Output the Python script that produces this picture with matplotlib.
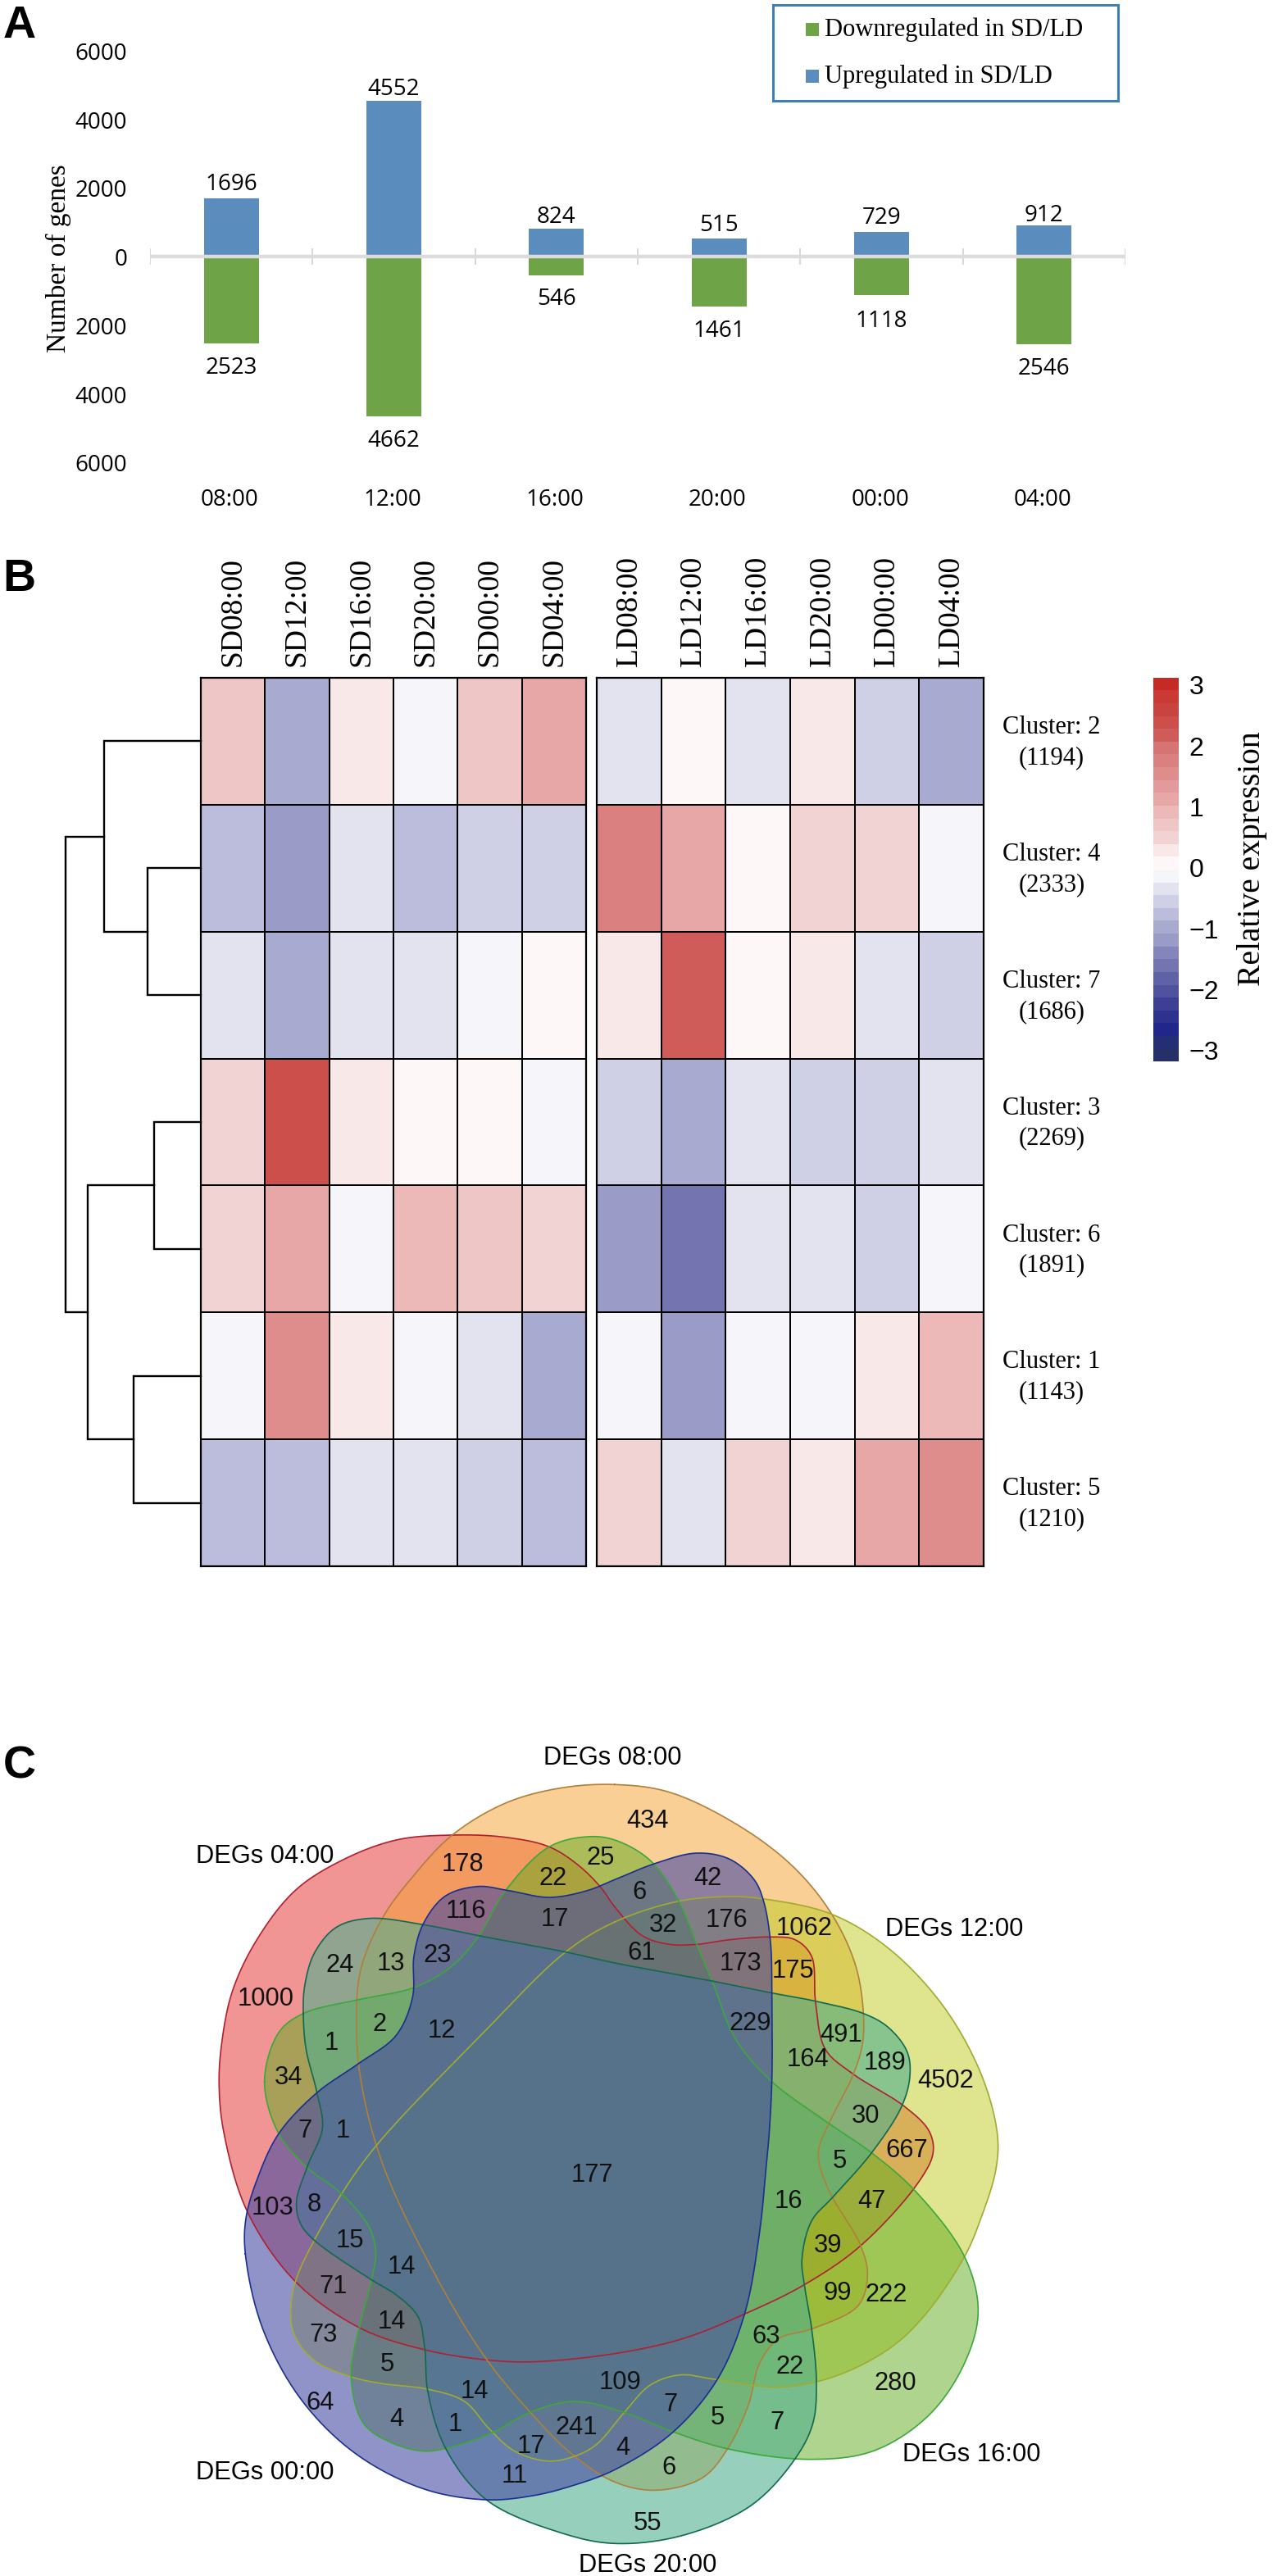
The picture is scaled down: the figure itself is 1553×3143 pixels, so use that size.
import numpy as np
import matplotlib
matplotlib.use("Agg")
import matplotlib.pyplot as plt
from matplotlib.colors import ListedColormap, BoundaryNorm
from matplotlib.patches import PathPatch, Rectangle
from matplotlib.path import Path

W, H = 1553, 3143
SANS = "Liberation Sans"
SERIF = "Liberation Serif"
LABEL = "Open Sans"

# ---------- Panel A data ----------
times = ["08:00", "12:00", "16:00", "20:00", "00:00", "04:00"]
upregulated = [1696, 4552, 824, 515, 729, 912]
downregulated = [2523, 4662, 546, 1461, 1118, 2546]
y_ticks = [6000, 4000, 2000, 0, -2000, -4000, -6000]

# ---------- Panel B data ----------
columns_sd = ["SD08:00", "SD12:00", "SD16:00", "SD20:00", "SD00:00", "SD04:00"]
columns_ld = ["LD08:00", "LD12:00", "LD16:00", "LD20:00", "LD00:00", "LD04:00"]
cluster_ids = [2, 4, 7, 3, 6, 1, 5]
cluster_sizes = [1194, 2333, 1686, 2269, 1891, 1143, 1210]
expr_sd = [
    [0.7, -0.9, 0.3, -0.1, 0.7, 1.15],
    [-0.7, -1.2, -0.3, -0.7, -0.5, -0.5],
    [-0.3, -0.9, -0.3, -0.3, -0.1, 0.1],
    [0.5, 2.4, 0.3, 0.1, 0.1, -0.1],
    [0.5, 1.15, -0.1, 0.95, 0.7, 0.5],
    [-0.1, 1.55, 0.3, -0.1, -0.3, -0.9],
    [-0.7, -0.7, -0.3, -0.3, -0.5, -0.7],
]
expr_ld = [
    [-0.3, 0.1, -0.3, 0.3, -0.5, -0.9],
    [1.75, 1.15, 0.1, 0.5, 0.5, -0.1],
    [0.3, 2.2, 0.1, 0.3, -0.3, -0.5],
    [-0.5, -0.9, -0.3, -0.5, -0.5, -0.3],
    [-1.2, -1.6, -0.3, -0.3, -0.5, -0.1],
    [-0.1, -1.2, -0.1, -0.1, 0.3, 0.95],
    [0.5, -0.3, 0.5, 0.3, 1.15, 1.55],
]
bin_colors = ["#25306a", "#232e74", "#20268a", "#2f318e", "#3d3f95", "#50529e", "#5f62a5", "#7475b0", "#8485bb",
              "#9a9bc7", "#a9aad0", "#bcbddc", "#cfd0e6", "#e3e3f0", "#f5f5fa", "#fdf8f7", "#f8e8e8",
              "#f2d3d3", "#efc6c6", "#ecb8b8", "#e8a7a7", "#e39a9a", "#de8c8c", "#da8080", "#d67474",
              "#d05c5a", "#cc4f4c", "#c94440", "#c93a35", "#c62a24"]
# dendrogram merges: (child a, child b, height); children < 7 are rows
merges = [(1, 2, 65), (0, 7, 118), (3, 4, 57), (5, 6, 82), (9, 10, 138), (8, 11, 165)]

# ---------- Panel C data ----------
set_names = ["DEGs 04:00", "DEGs 08:00", "DEGs 12:00", "DEGs 16:00", "DEGs 20:00", "DEGs 00:00"]
region_counts = [434, 178, 25, 22, 42, 6, 116, 17, 176, 32, 1062, 61, 173, 175, 24, 13, 23,
                 1000, 229, 491, 2, 12, 1, 164, 189, 4502, 34, 30, 7, 1, 667, 5, 177, 16,
                 47, 103, 8, 15, 39, 14, 71, 99, 222, 14, 73, 63, 5, 22, 109, 280, 14, 64,
                 7, 5, 4, 1, 7, 241, 17, 4, 6, 11, 55]
region_xy = [(880,183),(544,261),(795,249),(709,287),(990,287),(865,312),(550,347),(711,361),
             (1025,363),(909,372),(1166,378),(870,423),(1050,443),(1145,456),(320,445),(413,442),
             (498,427),(185,506),(1067,551),(1233,572),(393,553),(505,565),(305,588),(1172,617),
             (1312,624),(1423,656),(227,650),(1277,721),(256,748),(326,748),(1352,784),(1230,802),
             (780,828),(1137,876),(1288,876),(198,888),(274,882),(338,948),(1209,957),(432,995),
             (309,1032),(1226,1044),(1315,1047),(415,1095),(291,1120),(1096,1123),(406,1173),
             (1139,1178),(830,1206),(1332,1208),(566,1223),(284,1244),(922,1246),(1008,1271),
             (423,1274),(530,1282),(1117,1279),(751,1289),(669,1323),(836,1326),(920,1361),
             (639,1377),(880,1463)]
outline_red = [(905,207),(1100,215),(1260,250),(1370,320),(1450,400),(1500,470),(1600,575),(1700,607),
               (1800,607),(1920,590),(2070,580),(2160,590),(2220,650),(2235,820),(2270,990),(2370,1080),
               (2560,1200),(2650,1290),(2665,1370),(2610,1480),(2400,1710),(2190,1855),(1975,1960),
               (1750,2050),(1500,2105),(1200,2135),(1030,2128),(800,2090),(565,2010),(330,1840),
               (155,1585),(70,1300),(52,1130),(60,980),(100,780),(190,590),(330,410),(500,300),(700,225)]
outline_orange = [(1500,22),(1700,50),(1950,170),(2150,320),(2290,490),(2380,680),(2410,860),(2405,980),
                  (2370,1090),(2290,1250),(2245,1370),(2280,1500),(2400,1710),(2425,1820),(2390,1930),
                  (2220,2015),(2100,2050),(2030,2140),(1990,2290),(1915,2450),(1820,2560),(1650,2605),
                  (1500,2575),(1340,2470),(1200,2330),(1030,2125),(850,1830),(650,1410),(570,1100),
                  (555,900),(570,700),(650,510),(760,360),(905,207),(1100,90),(1300,35)]
outline_yellow = [(1500,525),(1730,450),(1920,432),(2040,440),(2290,495),(2500,620),(2700,830),(2840,1080),
                  (2900,1300),(2895,1430),(2840,1610),(2780,1750),(2630,1970),(2500,2090),(2300,2190),
                  (2100,2228),(1870,2200),(1740,2183),(1630,2220),(1535,2320),(1430,2440),(1340,2485),
                  (1250,2498),(1130,2460),(1040,2380),(950,2280),(815,2235),(650,2215),(535,2190),
                  (400,2130),(325,2030),(315,1930),(335,1830),(400,1690),(500,1520),(630,1340),
                  (1000,950),(1320,635)]
outline_green = [(218,1110),(270,930),(360,860),(560,810),(765,765),(900,690),(1000,580),(1100,410),
                 (1260,250),(1400,213),(1500,225),(1630,300),(1735,450),(1800,607),(1860,750),(1940,950),
                 (2070,1105),(2280,1260),(2440,1370),(2600,1510),(2780,1750),(2830,1950),(2780,2140),
                 (2650,2330),(2450,2460),(2220,2492),(1920,2455),(1710,2390),(1535,2320),(1350,2280),
                 (1190,2320),(1050,2395),(890,2450),(800,2462),(680,2430),(580,2360),(535,2190),
                 (565,2010),(610,1835),(625,1730),(600,1640),(500,1520),(370,1420),(270,1300)]
outline_teal = [(360,860),(365,760),(400,640),(480,545),(600,512),(800,535),(1000,575),(1320,635),
                (1500,675),(1850,740),(2075,785),(2235,815),(2410,860),(2500,910),(2570,1000),(2580,1090),
                (2550,1200),(2440,1370),(2300,1530),(2220,1620),(2185,1760),(2195,1860),(2220,2010),
                (2238,2210),(2225,2360),(2160,2490),(2000,2660),(1750,2770),(1500,2800),(1300,2760),
                (1030,2640),(880,2450),(815,2240),(805,2090),(780,1970),(700,1890),(610,1835),(400,1690),
                (350,1630),(335,1550),(375,1420),(430,1280),(410,1150),(370,990)]
outline_blue = [(148,1740),(150,1610),(190,1470),(270,1300),(410,1150),(560,1045),(700,940),(760,800),
                (765,650),(800,530),(880,430),(1000,395),(1110,410),(1260,435),(1400,410),(1500,370),
                (1650,310),(1800,273),(1920,295),(2010,370),(2045,450),(2070,600),(2075,800),(2075,1100),
                (2065,1300),(2055,1410),(2030,1660),(1975,1960),(1875,2200),(1710,2395),(1500,2530),
                (1340,2590),(1200,2625),(1030,2640),(800,2600),(550,2470),(350,2270),(210,2010)]


def px_axes(fig, left, top, right, bottom):
    return fig.add_axes([left / W, 1 - bottom / H, (right - left) / W, (bottom - top) / H])


def smooth_closed(points, n=20):
    """Closed centripetal Catmull-Rom curve through the given outline points."""
    p = np.asarray(points, float)
    out = []
    m = len(p)
    for i in range(m):
        p0, p1, p2, p3 = p[i - 1], p[i], p[(i + 1) % m], p[(i + 2) % m]
        t0 = 0.0
        t1 = t0 + np.linalg.norm(p1 - p0) ** 0.5
        t2 = t1 + np.linalg.norm(p2 - p1) ** 0.5
        t3 = t2 + np.linalg.norm(p3 - p2) ** 0.5
        t = np.linspace(t1, t2, n, endpoint=False)[:, None]
        a1 = (t1 - t) / (t1 - t0) * p0 + (t - t0) / (t1 - t0) * p1
        a2 = (t2 - t) / (t2 - t1) * p1 + (t - t1) / (t2 - t1) * p2
        a3 = (t3 - t) / (t3 - t2) * p2 + (t - t2) / (t3 - t2) * p3
        b1 = (t2 - t) / (t2 - t0) * a1 + (t - t0) / (t2 - t0) * a2
        b2 = (t3 - t) / (t3 - t1) * a2 + (t - t1) / (t3 - t1) * a3
        out.append((t2 - t) / (t2 - t1) * b1 + (t - t1) / (t2 - t1) * b2)
    out = np.vstack(out)
    return np.vstack([out, out[0]])


fig = plt.figure(figsize=(W / 100, H / 100), dpi=100, facecolor="white")
bg = fig.add_axes([0, 0, 1, 1])
bg.set_xlim(0, W)
bg.set_ylim(H, 0)
bg.axis("off")

for letter, x, y in [("A", 4, 46), ("B", 3, 721), ("C", 4, 2170)]:
    bg.text(x, y, letter, family=SANS, weight="bold", fontsize=40, ha="left", va="baseline")

# ---------- Panel A ----------
ax = px_axes(fig, 183, 62, 1373, 564)
ax.set_xlim(0, 6)
ax.set_ylim(-6000, 6000)
ax.axis("off")
pos = np.arange(6) + 0.5
ax.bar(pos, upregulated, width=0.337, color="#5a8cbe", zorder=2)
ax.bar(pos, -np.array(downregulated), width=0.337, color="#6fa347", zorder=2)
ax.axhline(0, color="#dcdcdc", lw=3.2, zorder=3)
ax.vlines(np.arange(7), -240, 240, color="#d9d9d9", lw=1.5, zorder=1)
up_gap = [17, 14, 14, 16, 17, 12]
down_gap = [30, 30, 29, 30, 32, 30]
for x, u, d, ug, dg in zip(pos, upregulated, downregulated, up_gap, down_gap):
    ax.annotate(str(u), (x, u), xytext=(0, ug * 0.72), textcoords="offset points", ha="center",
                va="center", family=LABEL, fontsize=20)
    ax.annotate(str(d), (x, -d), xytext=(0, -dg * 0.72), textcoords="offset points", ha="center",
                va="center", family=LABEL, fontsize=20)
for v in y_ticks:
    ax.annotate(str(abs(v)), (-0.14, v), xytext=(0, -3), textcoords="offset points", ha="right",
                va="center", family=LABEL, fontsize=20, annotation_clip=False)
for x, t in zip(pos, times):
    bg.text(183 + x * 1190 / 6 - 2, 610, t, ha="center", va="center", family=LABEL, fontsize=20)
bg.text(71, 315, "Number of genes", rotation=90, ha="center", va="center", family=SERIF, fontsize=24)
bg.add_patch(Rectangle((943, 6), 421, 117, fill=False, ec="#3f7fb8", lw=2.2))
for yy, col, txt in [(36, "#6fa347", "Downregulated in SD/LD"), (93, "#5a8cbe", "Upregulated in SD/LD")]:
    bg.add_patch(Rectangle((983, yy - 8), 16, 16, fc=col, ec="none"))
    bg.text(1006, yy, txt, ha="left", va="center", family=SERIF, fontsize=22)

# ---------- Panel B ----------
cmap_bins = ListedColormap(bin_colors)
levels = np.linspace(-3.15, 3.15, 31)
norm = BoundaryNorm(levels, 30)

for data, labels, left, right in [(expr_sd, columns_sd, 245, 715), (expr_ld, columns_ld, 728, 1200)]:
    a = px_axes(fig, left, 827, right, 1911)
    a.pcolormesh(np.array(data), cmap=cmap_bins, norm=norm, edgecolors="black", linewidth=1.2)
    a.set_ylim(7, 0)
    a.set_xlim(0, 6)
    a.set_xticks(np.arange(6) + 0.5)
    a.set_xticklabels(labels, rotation=90, family=SERIF, fontsize=27)
    a.xaxis.tick_top()
    a.tick_params(length=0, pad=10)
    a.set_yticks([])
    for s in a.spines.values():
        s.set_linewidth(1.6)

for i, (cid, size) in enumerate(zip(cluster_ids, cluster_sizes)):
    yc = 827 + 154.9 * (i + 0.5)
    bg.text(1283, yc - 17, f"Cluster: {cid}", ha="center", va="center", family=SERIF, fontsize=22)
    bg.text(1283, yc + 20, f"({size})", ha="center", va="center", family=SERIF, fontsize=22)

d = px_axes(fig, 80, 827, 245, 1911)
d.set_xlim(165, 0)
d.set_ylim(7, 0)
d.axis("off")
nodes = {i: (i + 0.5, 0) for i in range(7)}
for k, (a_, b_, h) in enumerate(merges):
    ya, ha_ = nodes[a_]
    yb, hb = nodes[b_]
    d.plot([ha_, h, h, hb], [ya, ya, yb, yb], color="black", lw=1.7, solid_joinstyle="miter", clip_on=False)
    nodes[7 + k] = ((ya + yb) / 2, h)

cb = px_axes(fig, 1407, 826, 1438, 1296)
grad = (levels[:-1] + levels[1:]) / 2
cb.pcolormesh([0, 1], levels, grad[:, None], cmap=cmap_bins, norm=norm)
cb.set_ylim(-3.16, 3.16)
cb.axis("off")
for v in [3, 2, 1, 0, -1, -2, -3]:
    cb.annotate(str(v).replace("-", "\u2212"), (1.4, v), xytext=(0, -1), textcoords="offset points",
                ha="left", va="center", family=SANS, fontsize=23, annotation_clip=False)
bg.text(1527, 1048, "Relative expression", rotation=90, ha="center", va="center", family=SERIF, fontsize=28.5)

# ---------- Panel C ----------
v = bg


def trace(points):
    c = smooth_closed(points)
    return np.column_stack([250 + c[:, 0] / 3, 2170 + c[:, 1] / 3])


styles = [(outline_red, "#e52b2b", "#b02030", 0.5), (outline_orange, "#f5a12d", "#b0803a", 0.5),
          (outline_yellow, "#bfcd1f", "#a0ab30", 0.5), (outline_green, "#61ab1d", "#3ca83a", 0.5),
          (outline_teal, "#50af8e", "#116a50", 0.6), (outline_blue, "#464ba3", "#1a2f90", 0.6)]
for pts, fc, ec, al in styles:
    c = trace(pts)
    v.add_patch(PathPatch(Path(c), fc=fc, ec="none", alpha=al))
for pts, fc, ec, al in styles:
    c = trace(pts)
    v.plot(c[:, 0], c[:, 1], color=ec, lw=1.2)
for n, (x, y) in zip(region_counts, region_xy):
    v.text(200 + 0.67 * x, 2100 + 0.669 * y, str(n), ha="center", va="center", family=SANS,
           fontsize=22.2, color="#111111")
label_pos = [(184, 246, "center"), (817, 67, "center"), (1313, 379, "left"),
             (1345, 1338, "left"), (881, 1540, "center"), (184, 1371, "center")]
for name, (x, y, al) in zip(set_names, label_pos):
    v.text(200 + 0.67 * x, 2100 + 0.669 * y, name, ha=al, va="center", family=SANS, fontsize=22.2)

fig.savefig("out.png", dpi=100, facecolor="white")
